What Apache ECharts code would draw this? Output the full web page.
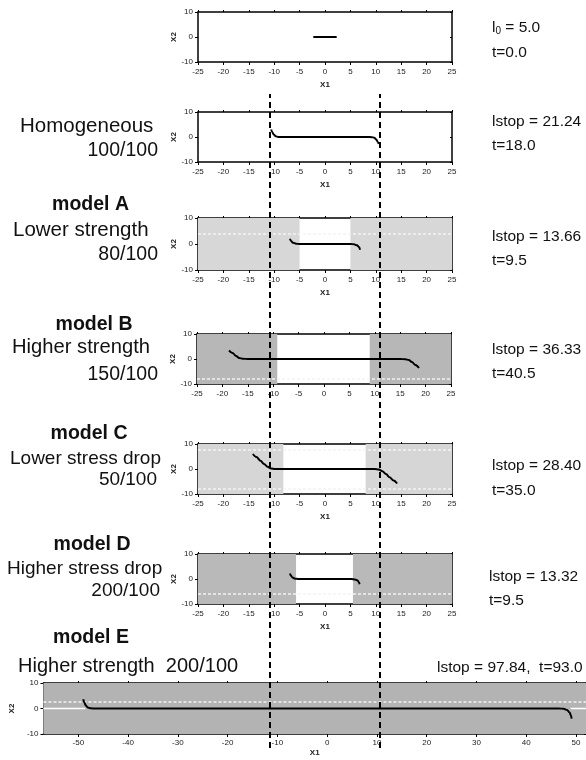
<!DOCTYPE html>
<html><head><meta charset="utf-8">
<script src="https://cdn.jsdelivr.net/npm/echarts@6/dist/echarts.min.js"></script>
<style>html,body{margin:0;padding:0;background:#fff}#c{width:586px;height:760px}</style>
</head><body><div id="c"></div>
<script>
// ---- data ----
const yTickVals = [-10, 0, 10];
const xTicksWide = [-50, -40, -30, -20, -10, 0, 10, 20, 30, 40, 50];

const curveInit = [[-2.3, 0], [2.3, 0]];
const curveHomog = [[-10.6, 3.0], [-10.4, 2.0], [-10.1, 1.0], [-9.7, 0.3], [-9.2, 0.05], [-8.5, 0], [8.5, 0], [9.2, -0.05], [9.7, -0.3], [10.1, -1.0], [10.4, -2.0], [10.6, -2.8]];
const curveA = [[-6.9, 2.0], [-6.7, 1.2], [-6.3, 0.5], [-5.7, 0.1], [-5.0, 0], [5.0, 0], [5.7, -0.1], [6.3, -0.5], [6.7, -1.2], [6.9, -2.2]];
const curveB = [[-18.7, 3.4], [-18.0, 2.4], [-17.3, 1.2], [-16.7, 0.4], [-16.0, 0.1], [-15.0, 0], [15.0, 0], [16.0, -0.1], [16.7, -0.4], [17.3, -1.2], [18.0, -2.4], [18.7, -3.6]];
const curveC = [[-14.2, 6.0], [-13.5, 4.8], [-12.7, 3.3], [-12.0, 2.0], [-11.3, 0.9], [-10.6, 0.2], [-9.8, 0], [9.8, 0], [10.6, -0.2], [11.3, -0.9], [12.0, -2.0], [12.7, -3.3], [13.5, -4.6], [14.2, -5.8]];
const curveD = [[-6.9, 2.2], [-6.7, 1.3], [-6.4, 0.6], [-5.9, 0.15], [-5.2, 0], [5.2, 0], [5.9, -0.15], [6.4, -0.6], [6.7, -1.3], [6.8, -2.1]];
const curveE = [[-49.0, 3.6], [-48.8, 2.4], [-48.5, 1.2], [-48.1, 0.4], [-47.5, 0.05], [-46.5, 0], [46.5, 0], [47.5, -0.1], [48.2, -0.6], [48.7, -1.6], [49.0, -2.8], [49.1, -4.0]];

const zonesA = [[-25, -5.0], [5.0, 25]];
const zonesB = [[-25, -9.2], [9.0, 25]];
const zonesC = [[-25, -8.2], [8.0, 25]];
const zonesD = [[-25, -5.7], [5.5, 25]];
const zonesE = [[-57, 52]];

const whiteLinesA = [3.8];
const whiteLinesB = [-7.9];
const whiteLinesC = [7.9, -7.7];
const whiteLinesD = [-5.7];
const whiteLinesE = [2.8];
const whiteZeroE = [[[-57, 0], [-48.6, 0]], [[48.9, 0], [52, 0]]];

const dashX = [-10.9, 10.8];

const leftTexts = [
  'Homogeneous', '100/100',
  'model A', 'Lower strength', '80/100',
  'model B', 'Higher strength', '150/100',
  'model C', 'Lower stress drop', '50/100',
  'model D', 'Higher stress drop', '200/100',
  'model E', 'Higher strength  200/100'
];
const rightTexts = ['t=0.0', 'lstop = 21.24', 't=18.0', 'lstop = 13.66', 't=9.5',
  'lstop = 36.33', 't=40.5', 'lstop = 28.40', 't=35.0', 'lstop = 13.32', 't=9.5',
  'lstop = 97.84,  t=93.0'];

// ---- layout ----
const FONT = "'Liberation Sans', Arial, sans-serif";
const panels = [
  {curve: curveInit, zones: [], wl: [], color: '#fff', grid: {left: 198, right: 134, top: 12, height: 50}, xName: true},
  {curve: curveHomog, zones: [], wl: [], color: '#fff', grid: {left: 198, right: 134, top: 112, height: 50}, xName: true},
  {curve: curveA, zones: zonesA, wl: whiteLinesA, color: '#d7d7d7', grid: {left: 198, right: 134, top: 218, height: 52}, xName: true},
  {curve: curveB, zones: zonesB, wl: whiteLinesB, color: '#b7b7b7', grid: {left: 197, right: 135, top: 334, height: 50}, xName: false},
  {curve: curveC, zones: zonesC, wl: whiteLinesC, color: '#d6d6d6', grid: {left: 198, right: 134, top: 444, height: 50}, xName: true},
  {curve: curveD, zones: zonesD, wl: whiteLinesD, color: '#b9b9b9', grid: {left: 198, right: 134, top: 554, height: 50}, xName: true},
  {curve: curveE, zones: zonesE, wl: whiteLinesE, color: '#b3b3b3', grid: {left: 36, right: 0, top: 683, height: 51}, xName: true, wide: true}
];

const grids = [], xAxes = [], yAxes = [], series = [];
const lineBlack = {show: true, onZero: false, lineStyle: {color: '#000', width: 1.5}};
panels.forEach((p, i) => {
  grids.push(Object.assign({containLabel: false}, p.grid));
  const xmin = p.wide ? -57 : -25, xmax = p.wide ? 52 : 25;
  const xa = {
    gridIndex: i, type: 'value', min: xmin, max: xmax, position: 'bottom',
    axisLine: lineBlack, splitLine: {show: false},
    axisTick: {show: true, length: 3, lineStyle: {color: '#000'}},
    axisLabel: {fontSize: 8, color: '#222', margin: p.wide ? 5 : 6, fontFamily: FONT},
    name: p.xName ? 'X1' : '', nameLocation: 'middle', nameGap: p.wide ? 15 : 19,
    nameTextStyle: {fontSize: 8, fontWeight: 'bold', color: '#222', fontFamily: FONT}
  };
  if (p.wide) {
    xa.axisLabel.customValues = xTicksWide;
    xa.axisTick.customValues = xTicksWide;
  } else {
    xa.interval = 5;
  }
  xAxes.push(xa);
  const xt = {
    gridIndex: i, type: 'value', min: xmin, max: xmax, position: 'top',
    axisLine: lineBlack, splitLine: {show: false}, axisLabel: {show: false},
    axisTick: {show: true, length: 2, lineStyle: {color: '#000'}}
  };
  if (p.wide) xt.axisTick.customValues = xTicksWide; else xt.interval = 5;
  xAxes.push(xt);
  yAxes.push({
    gridIndex: i, type: 'value', min: -10, max: 10, interval: 10, position: 'left',
    axisLine: lineBlack, splitLine: {show: false},
    axisTick: {show: true, length: 3, lineStyle: {color: '#000'}},
    axisLabel: {fontSize: 8, color: '#222', margin: 5, fontFamily: FONT},
    name: 'X2', nameLocation: 'middle', nameGap: 14, nameRotate: 90,
    nameTextStyle: {fontSize: 8, fontWeight: 'bold', color: '#222', fontFamily: FONT}
  });
  yAxes.push({
    gridIndex: i, type: 'value', min: -10, max: 10, interval: 10, position: 'right',
    axisLine: lineBlack, splitLine: {show: false}, axisLabel: {show: false},
    axisTick: {show: true, length: 2, inside: true, lineStyle: {color: '#000'}}
  });
  series.push({
    type: 'line', xAxisIndex: 2 * i, yAxisIndex: 2 * i, data: [], z: 1, silent: true,
    markArea: {silent: true, itemStyle: {color: p.color}, data: p.zones.map(z => [{xAxis: z[0]}, {xAxis: z[1]}])},
    markLine: {silent: true, symbol: ['none', 'none'], label: {show: false},
      lineStyle: {color: '#f4f4f4', width: 1.5, type: [3, 2]},
      data: p.wl.map(v => ({yAxis: v}))}
  });
  if (p.wide) {
    whiteZeroE.forEach(seg => series.push({
      type: 'line', xAxisIndex: 2 * i, yAxisIndex: 2 * i, data: seg, z: 2, silent: true,
      symbol: 'none', lineStyle: {color: '#fff', width: 1.5}
    }));
  }
  series.push({
    type: 'line', xAxisIndex: 2 * i, yAxisIndex: 2 * i, data: p.curve, z: 5,
    symbol: 'none', smooth: 0.35, smoothMonotone: 'x', silent: true,
    lineStyle: {color: '#000', width: 2}
  });
});

// overlay for dashed lines
const oi = panels.length;
grids.push({left: 198, right: 134, top: 94, height: 654});
xAxes.push({gridIndex: oi, type: 'value', min: -25, max: 25, show: false});
yAxes.push({gridIndex: oi, type: 'value', min: 0, max: 1, show: false});
series.push({
  type: 'line', xAxisIndex: xAxes.length - 1, yAxisIndex: yAxes.length - 1, data: [], z: 20, silent: true,
  markLine: {silent: true, symbol: ['none', 'none'], label: {show: false},
    lineStyle: {color: '#000', width: 2, type: [6, 4]},
    data: dashX.map(v => ({xAxis: v}))}
});

// texts: [x, y, align, size, bold]
const leftPos = [
  [20, 126, 'left', 20.5, 0], [158, 150.5, 'right', 19.5, 0],
  [90.5, 205, 'center', 19.5, 1], [13, 230, 'left', 20.5, 0], [158, 255, 'right', 19.5, 0],
  [94, 324.5, 'center', 19.5, 1], [12, 347, 'left', 20.2, 0], [158, 375, 'right', 19.5, 0],
  [89, 434, 'center', 19.5, 1], [10, 459, 'left', 19, 0], [157, 480, 'right', 19, 0],
  [92, 544.5, 'center', 19.5, 1], [7, 569, 'left', 19, 0], [160, 590.5, 'right', 19, 0],
  [91, 638, 'center', 19.5, 1], [18, 666, 'left', 20, 0]
];
const rightPos = [[492, 53], [492, 122], [492, 146], [492, 237], [492, 261],
  [492, 350], [492, 374], [492, 466], [492, 491], [489, 577], [489, 601], [437, 668]];

const graphics = [];
leftTexts.forEach((t, i) => {
  const lp = leftPos[i];
  graphics.push({type: 'text', x: lp[0], y: lp[1], silent: true,
    style: {text: t, fill: '#111', font: (lp[4] ? 'bold ' : '') + lp[3] + 'px ' + FONT,
      textAlign: lp[2], textVerticalAlign: 'middle'}});
});
rightTexts.forEach((t, i) => {
  graphics.push({type: 'text', x: rightPos[i][0], y: rightPos[i][1], silent: true,
    style: {text: t, fill: '#111', font: '15.5px ' + FONT, textAlign: 'left', textVerticalAlign: 'middle'}});
});
graphics.push({type: 'text', x: 492, y: 28, silent: true,
  style: {text: '{a|l}{b|0}{a| = 5.0}', fill: '#111', textAlign: 'left', textVerticalAlign: 'middle',
    rich: {a: {fontSize: 15.5, fontFamily: FONT, color: '#111'},
           b: {fontSize: 10, fontFamily: FONT, color: '#111', verticalAlign: 'bottom', padding: [4, 0, 0, 0]}}}});

const chart = echarts.init(document.getElementById('c'), null, {renderer: 'canvas'});
chart.setOption({
  animation: false, backgroundColor: '#fff',
  grid: grids, xAxis: xAxes, yAxis: yAxes, series: series, graphic: graphics
});
</script></body></html>
